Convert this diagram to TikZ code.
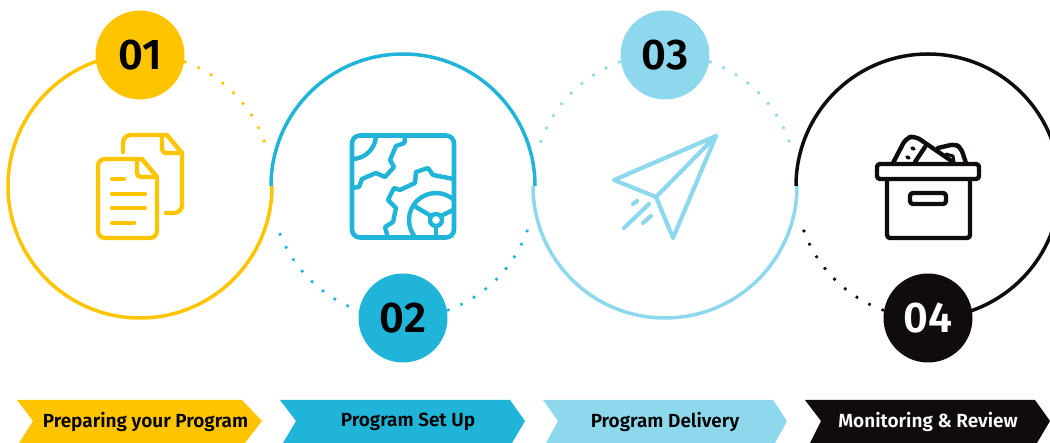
\documentclass[tikz,border=0pt]{standalone}
\usepackage{fontspec}
\setmainfont{Fira Sans}
\newfontfamily\lab{Fira Sans SemiBold}
\definecolor{cy}{HTML}{FFC400}
\definecolor{cb}{HTML}{1FB4D8}
\definecolor{cl}{HTML}{8ED8EE}
\definecolor{ck}{HTML}{0F0C0B}
\tikzset{
 ring/.style={line width=3.5pt},
 dots/.style={line width=2.7pt,dash pattern=on 2.6pt off 11.8pt},
 badge/.style={circle,minimum size=89pt,inner sep=0pt,font=\lab\fontsize{43}{43}\selectfont},
 ribbon/.style={inner sep=0pt,font=\lab\fontsize{19}{20}\selectfont},
 icon/.style={line width=4.4pt,line cap=round,line join=round}
}
\begin{document}
\begin{tikzpicture}[x=1pt,y=1pt,yscale=-1]
\clip (0,0) rectangle (1050,443);
\coordinate (c1) at (140,186);
\coordinate (c2) at (403,186);
\coordinate (c3) at (665,186);
\coordinate (c4) at (928,186);
% rings
\draw[ring,cy] (c1) ++(-90:132pt) arc[start angle=-90,end angle=-360,radius=132pt];
\draw[dots,cy] (c1) ++(-70.5:132pt) arc[start angle=-70.5,end angle=-19,radius=132pt];
\draw[ring,cb] (c2) ++(180:132pt) arc[start angle=180,end angle=360,radius=132pt];
\draw[dots,cb] (c2) ++(108:132pt) arc[start angle=108,end angle=159.5,radius=132pt];
\draw[dots,cb] (c2) ++(70.5:132pt) arc[start angle=70.5,end angle=19,radius=132pt];
\draw[ring,cl] (c3) ++(180:132pt) arc[start angle=180,end angle=0,radius=132pt];
\draw[dots,cl] (c3) ++(250.3:132pt) arc[start angle=250.3,end angle=199,radius=132pt];
\draw[dots,cl] (c3) ++(-70.5:132pt) arc[start angle=-70.5,end angle=-19,radius=132pt];
\draw[ring,ck] (c4) ++(180:132pt) arc[start angle=180,end angle=450,radius=132pt];
\draw[dots,ck] (c4) ++(109.5:132pt) arc[start angle=109.5,end angle=161,radius=132pt];
% badges
\node[badge,fill=cy,text=black] (b1) at (140,55) {01};
\node[badge,fill=cb,text=black] (b2) at (403,318) {02};
\node[badge,fill=cl,text=black] (b3) at (665,55) {03};
\node[badge,fill=ck,text=white] (b4) at (928,318) {04};
% ribbons
\fill[cy] (17,400) -- (242,400) -- (262,421) -- (245,443) -- (19,443) -- (33,421) -- cycle;
\fill[cb] (280,400) -- (510,400) -- (525,421) -- (512,443) -- (283,443) -- (296,421) -- cycle;
\fill[cl] (543,400) -- (773,400) -- (787,421) -- (775,443) -- (546,443) -- (558,421) -- cycle;
\fill[ck] (805,400) -- (1035,400) -- (1050,421) -- (1037,443) -- (810,443) -- (821,421) -- cycle;
\node[ribbon,text=black] (r1) at (145.5,422) {Preparing your Program};
\node[ribbon,text=black] (r2) at (408,422) {Program Set Up};
\node[ribbon,text=black] (r3) at (665,422) {Program Delivery};
\node[ribbon,text=white] (r4) at (928,422) {Monitoring \& Review};
% icon 1: documents
\begin{scope}[icon,cy]
\draw (142,159) -- (105,159) arc[start angle=-90,end angle=-180,radius=7pt] -- (98,231) arc[start angle=180,end angle=90,radius=7pt] -- (150,238) arc[start angle=90,end angle=0,radius=7pt] -- (157,177) -- cycle;
\draw (137,159) -- (137,173) arc[start angle=180,end angle=90,radius=4pt] -- (157,177);
\draw (112,179) -- (124,179);
\draw (112,194) -- (145,194);
\draw (112,208) -- (145,208);
\draw (112,223) -- (134,223);
\draw (123,152) -- (123,143) arc[start angle=180,end angle=270,radius=8pt] -- (167,135) -- (182,153) -- (182,205) arc[start angle=0,end angle=90,radius=8pt] -- (166,213);
\draw (162,135) -- (162,149) arc[start angle=180,end angle=90,radius=4pt] -- (182,153);
\end{scope}
% icon 2: gears
\begin{scope}[icon,cb]
\draw[line width=4.6pt,rounded corners=8pt] (352,135.5) rectangle (454,237.5);
\begin{scope}
\clip (352,135.5) rectangle (454,237.5);
\draw (376,135) arc[start angle=0,end angle=90,radius=24pt];
\draw (405,136) -- (404.5,143) -- (396,146) -- (390,160) -- (394,167) -- (385,177) -- (376,173) -- (362,179) -- (359,187) -- (352,188);
\draw (454,179) -- (433,175) -- (428,168) -- (416,172) -- (415,183) -- (400,190) -- (394,188) -- (388,200) -- (396,208) -- (393,222) -- (385,227) -- (388,238);
\draw (436,220) circle[radius=27pt];
\draw (436,220) circle[radius=6pt];
\draw (416,207) -- (431,216);
\draw (441,216) -- (455,209);
\draw (436,226) -- (436,238);
\end{scope}
\end{scope}
% icon 3: plane
\begin{scope}[icon,cl,line width=4.2pt]
\draw (716,136) -- (614,180) -- (656,197) -- cycle;
\draw (656,197) -- (673,238) -- (716,136);
\draw (624,228) -- (649,204);
\draw (643,223) -- (651,216);
\draw (633,204) -- (637,201);
\end{scope}
% icon 4: box
\begin{scope}[icon,ck]
\draw[rounded corners=3pt] (877,164) rectangle (979,179);
\draw[rounded corners=3pt] (887,179) -- (887,238) -- (970,238) -- (970,179);
\draw[rounded corners=3pt] (910,193) rectangle (946,204);
\draw[rounded corners=6pt] (893,163) -- (906,138) -- (915,136) -- (953,162);
\draw (915,162) -- (925,147);
\draw[line width=3.4pt] (912,148) -- (914,149);
\draw[line width=3.4pt] (907,157) -- (909,158);
\draw[rounded corners=5pt] (938,148) -- (955,144) -- (961,148) -- (966,163);
\draw[line width=3pt] (946,154) -- (953,156) -- (954,162);
\end{scope}
\end{tikzpicture}
\end{document}
